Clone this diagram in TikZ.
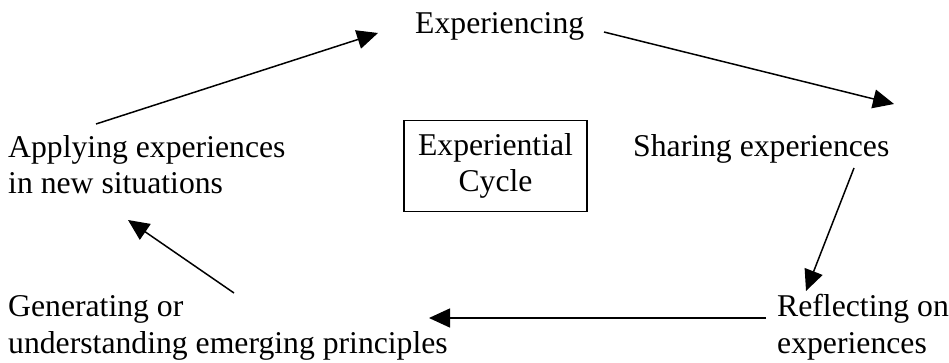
\documentclass[tikz,border=0pt]{standalone}
\usepackage{fontspec}
\setmainfont{Liberation Serif}
\usetikzlibrary{arrows.meta}
\begin{document}
\begin{tikzpicture}[x=1pt,y=-1pt,
  lbl/.style={inner sep=0pt, anchor=base west, align=left, font=\fontsize{31.7}{36.8}\selectfont},
  cyc/.style={draw, line width=1.5pt, inner sep=0pt, align=center, minimum width=183pt, minimum height=91pt, font=\fontsize{31.7}{36.8}\selectfont},
  arr/.style={line width=1.5pt, -{Triangle[length=21pt,width=19pt]}}]
\fill[white] (0,0) rectangle (949,363);
\useasboundingbox (0,0) rectangle (949,363);
\node[lbl] (exp) at (415,34) {Experiencing};
\node[lbl] (app) at (8,194) {Applying experiences\\in new situations};
\node[lbl] (sha) at (633,157) {Sharing experiences};
\node[lbl] (gen) at (8,353) {Generating or\\understanding emerging principles};
\node[lbl] (ref) at (777,353) {Reflecting on\\experiences};
\node[cyc] (cycle) at (495.5,166) {Experiential\\Cycle};
\coordinate (a1s) at (96,124);  \coordinate (a1e) at (378,33);
\coordinate (a2s) at (604,32);  \coordinate (a2e) at (894,104);
\coordinate (a3s) at (854,168); \coordinate (a3e) at (806,291);
\coordinate (a4s) at (766,318); \coordinate (a4e) at (429,318);
\coordinate (a5s) at (234,293); \coordinate (a5e) at (128,220);
\draw[arr] (a1s) -- (a1e);
\draw[arr] (a2s) -- (a2e);
\draw[arr] (a3s) -- (a3e);
\draw[arr] (a4s) -- (a4e);
\draw[arr] (a5s) -- (a5e);
\end{tikzpicture}
\end{document}
